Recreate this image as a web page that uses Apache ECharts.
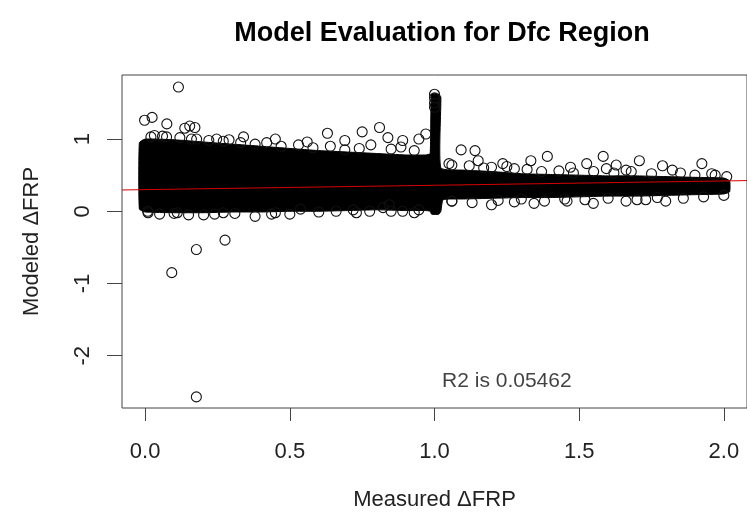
<!DOCTYPE html>
<html>
<head>
<meta charset="utf-8">
<script src="https://cdn.jsdelivr.net/npm/echarts@6/dist/echarts.min.js"></script>
<style>
html,body{margin:0;padding:0;background:#fff;}
#c{width:747px;height:516px;}
</style>
</head>
<body>
<div id="c"></div>
<script>
// ---- data ----
const xTicks = [0, 0.5, 1, 1.5, 2];
const yTicks = [-2, -1, 0, 1];

// outline of the dense (fully overlapping) cloud of circles, upper edge left->right
const bandTopX = [-0.02, 0.0, 0.1, 0.2, 0.3, 0.4, 0.5, 0.6, 0.7, 0.8, 0.9, 0.97, 0.985, 0.99, 1.015, 1.022, 1.022, 1.1, 1.2, 1.3, 1.4, 1.5, 1.6, 1.7, 1.8, 1.9, 2.0, 2.02];
const bandTopY = [0.95, 1.0, 0.99, 0.96, 0.93, 0.9, 0.87, 0.84, 0.82, 0.8, 0.78, 0.78, 0.8, 1.62, 1.62, 1.58, 0.6, 0.57, 0.55, 0.52, 0.51, 0.5, 0.49, 0.49, 0.48, 0.47, 0.46, 0.42];
// lower edge, right->left
const bandBotX = [2.02, 2.0, 1.9, 1.8, 1.7, 1.6, 1.5, 1.4, 1.3, 1.2, 1.1, 1.03, 1.022, 1.015, 0.99, 0.985, 0.97, 0.9, 0.8, 0.7, 0.6, 0.5, 0.4, 0.3, 0.2, 0.1, 0.0, -0.02];
const bandBotY = [0.27, 0.24, 0.23, 0.22, 0.21, 0.21, 0.2, 0.19, 0.19, 0.18, 0.17, 0.16, 0.0, -0.04, -0.04, 0.0, 0.01, 0.01, 0.02, 0.01, 0.0, 0.0, -0.01, -0.01, -0.02, -0.02, -0.01, 0.03];

// individual circles visible around the cloud and the outliers
const ptX = [0.115, -0.002, 0.024, 0.075, 0.137, 0.154, 0.172, 0.032, 0.074, 0.178, 0.247,
  0.092, 0.177, 0.276, 0.177, 0.38, 0.437, 0.537, 0.009, 0.111, 0.202, 0.27, 0.719, 0.776, 0.822,
  0.81, 0.839, 0.89, 0.946, 0.97, 0.884, 0.63, 0.75, 0.69, 0.56, 0.45, 0.34, 0.29,
  1.092, 1.14, 1.39, 1.583, 1.708, 1.924, 1.333, 1.526, 1.47, 1.788, 1.151, 1.06, 1.236, 1.276, 1.628, 1.822, 1.958, 1.594, 1.662, 1.197,
  1.197, 1.344, 1.458, 1.549, 1.662, 1.73, 1.799, 1.276, 1.06, 0.89, 0.946, 0.844,
  0.02, 0.06, 0.12, 0.16, 0.22, 0.27, 0.33, 0.38, 0.42, 0.47, 0.53, 0.58, 0.64, 0.69, 0.74, 0.78, 0.85, 0.93,
  1.05, 1.12, 1.17, 1.25, 1.32, 1.37, 1.43, 1.48, 1.55, 1.62, 1.68, 1.75, 1.85, 1.9, 1.97, 2.01,
  0.01, 0.05, 0.1, 0.15, 0.24, 0.31, 0.45, 0.5, 0.6, 0.66, 0.73, 0.85, 0.93,
  1.06, 1.13, 1.22, 1.3, 1.38, 1.45, 1.52, 1.6, 1.7, 1.77, 1.86, 1.93, 2.0,
  1.0, 1.0, 1.0, 1.0];
const ptY = [1.72, 1.26, 1.3, 1.21, 1.15, 1.18, 1.16, 1.05, 1.03, 1.0, 1.0,
  -0.85, -0.53, -0.4, -2.57, -0.07, -0.04, 0.03, 0.0, -0.02, -0.05, -0.02, 0.02, 0.0, 0.05,
  1.16, 1.02, 0.98, 1.0, 1.07, 0.89, 1.08, 1.1, 0.98, 0.96, 1.0, 1.03, 0.99,
  0.85, 0.84, 0.76, 0.76, 0.7, 0.66, 0.7, 0.66, 0.61, 0.63, 0.7, 0.64, 0.66, 0.59, 0.64, 0.57, 0.52, 0.59, 0.57, 0.61,
  0.09, 0.11, 0.14, 0.11, 0.14, 0.16, 0.14, 0.13, 0.14, 0.0, 0.02, 0.09,
  1.03, 1.04, 1.02, 1.0, 0.98, 0.97, 0.95, 0.93, 0.95, 0.9, 0.92, 0.88, 0.9, 0.85, 0.87, 0.92, 0.86, 0.84,
  0.66, 0.63, 0.6, 0.62, 0.58, 0.55, 0.56, 0.53, 0.55, 0.53, 0.55, 0.52, 0.53, 0.5, 0.5, 0.48,
  -0.02, -0.04, -0.03, -0.05, -0.04, -0.03, -0.02, -0.04, -0.01, 0.0, -0.02, 0.0, -0.02,
  0.14, 0.12, 0.15, 0.17, 0.14, 0.17, 0.16, 0.18, 0.16, 0.19, 0.18, 0.2, 0.22,
  1.62, 1.57, 1.5, 1.44];

// fitted regression line (abline), end points at the plot-region edges
const fitX = [-0.08, 2.08];
const fitY = [0.295, 0.425];

const r2Text = 'R2 is 0.05462';
const r2Pos = [1.25, -2.35];

// ---- chart ----
const chart = echarts.init(document.getElementById('c'), null, {renderer: 'canvas'});
const FONT = '"Liberation Sans", Arial, Helvetica, sans-serif';
const bandPolyX = bandTopX.concat(bandBotX);
const bandPolyY = bandTopY.concat(bandBotY);

chart.setOption({
  animation: false,
  backgroundColor: '#fff',
  title: {
    text: 'Model Evaluation for Dfc Region',
    left: 437, top: 15, textAlign: 'center',
    textStyle: {fontFamily: FONT, fontWeight: 'bold', fontSize: 27, color: '#000'}
  },
  grid: {left: 122, top: 75, right: -9, bottom: 103, show: true, borderColor: '#444', borderWidth: 1, backgroundColor: 'transparent'},
  xAxis: {
    type: 'value', min: -0.08, max: 2.08,
    name: 'Measured \u0394FRP', nameLocation: 'middle', nameGap: 81,
    nameTextStyle: {fontFamily: FONT, fontSize: 22, color: '#222'},
    axisLine: {show: false, onZero: false},
    splitLine: {show: false},
    axisTick: {show: true, customValues: xTicks, length: 13, inside: false, lineStyle: {color: '#444'}},
    axisLabel: {customValues: xTicks, margin: 33, fontFamily: FONT, fontSize: 22, color: '#222',
      formatter: v => v.toFixed(1)}
  },
  yAxis: {
    type: 'value', min: -2.724, max: 1.887,
    name: 'Modeled \u0394FRP', nameLocation: 'middle', nameGap: 79,
    nameTextStyle: {fontFamily: FONT, fontSize: 22, color: '#222'},
    axisLine: {show: false, onZero: false},
    splitLine: {show: false},
    axisTick: {show: true, customValues: yTicks, length: 15, lineStyle: {color: '#444'}},
    axisLabel: {customValues: yTicks, rotate: 90, margin: 28, fontFamily: FONT, fontSize: 22, color: '#222',
      formatter: v => String(v)}
  },
  series: [
    {
      type: 'custom',
      data: [[bandPolyX[0], bandPolyY[0]]],
      silent: true, z: 1,
      renderItem: function (params, api) {
        const pts = bandPolyX.map((x, i) => api.coord([x, bandPolyY[i]]));
        return {type: 'polygon', shape: {points: pts, smooth: 0.15}, style: {fill: '#000', stroke: '#000', lineWidth: 1}};
      }
    },
    {
      type: 'scatter', z: 2, silent: true,
      data: ptX.map((x, i) => [x, ptY[i]]),
      symbol: 'circle', symbolSize: 10,
      itemStyle: {color: 'rgba(0,0,0,0)', borderColor: '#111', borderWidth: 1.1, opacity: 1}
    },
    {
      type: 'line', z: 3, silent: true,
      data: fitX.map((x, i) => [x, fitY[i]]),
      symbol: 'none',
      lineStyle: {color: '#d40000', width: 1}
    },
    {
      type: 'scatter', z: 4, silent: true,
      data: [r2Pos],
      symbolSize: 0,
      label: {show: true, position: 'inside', formatter: r2Text, fontFamily: FONT, fontSize: 21, color: '#111'}
    }
  ]
});
</script>
</body>
</html>
